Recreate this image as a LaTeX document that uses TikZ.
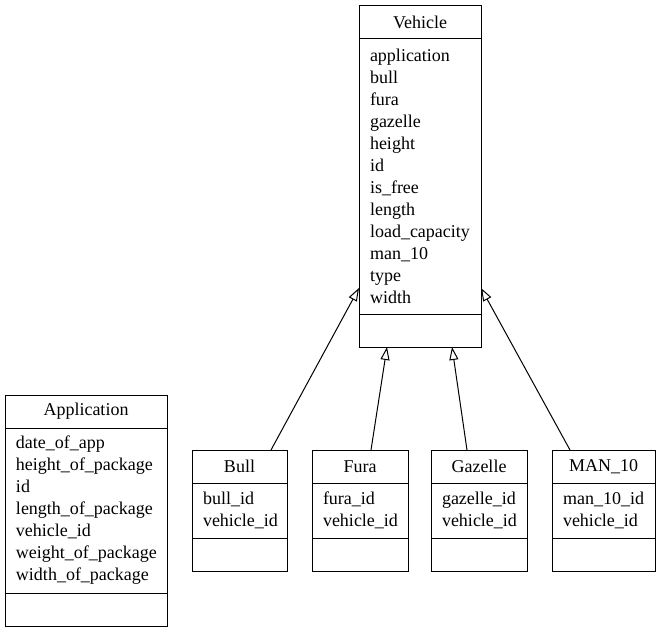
\documentclass[tikz,border=0pt]{standalone}
\usepackage{fontspec}
\setmainfont{Liberation Serif}
\newfontfamily\classfont{Liberation Serif}
\usetikzlibrary{positioning,arrows.meta}

\begin{document}
\begin{tikzpicture}[x=1pt,y=-1pt,
  classname/.style={draw, line width=1pt, outer sep=0pt, text width=#1, inner xsep=11pt, inner ysep=0pt, minimum height=33pt, align=center, font=\classfont\fontsize{18}{22}\selectfont},
  classattrs/.style={draw, line width=1pt, outer sep=0pt, text width=#1, inner xsep=11pt, inner ysep=0pt, align=left, font=\classfont\fontsize{18}{22}\selectfont},
  classempty/.style={draw, line width=1pt, outer sep=0pt, text width=#1, inner xsep=11pt, inner ysep=0pt, minimum height=33pt},
  inherit/.style={line width=1pt, -{Triangle[open, length=13pt, width=9pt]}}]
\useasboundingbox (0,0) rectangle (661,631);

% Vehicle
\node[classname=100pt, anchor=north west] (vehicle) at (359,6) {Vehicle};
\node[classattrs=100pt, minimum height=275pt, below=0pt of vehicle] (vehicleattr) {application\\ bull\\ fura\\ gazelle\\ height\\ id\\ is\_free\\ length\\ load\_capacity\\ man\_10\\ type\\ width};
\node[classempty=100pt, below=0pt of vehicleattr] (vehicleempty) {};

% Application
\node[classname=140pt, anchor=north west] (app) at (5,395) {Application};
\node[classattrs=140pt, minimum height=165pt, below=0pt of app] (appattr) {date\_of\_app\\ height\_of\_package\\ id\\ length\_of\_package\\ vehicle\_id\\ weight\_of\_package\\ width\_of\_package};
\node[classempty=140pt, below=0pt of appattr] (appempty) {};

% Bull, Fura, Gazelle, MAN_10
\node[classname=73pt, anchor=north west] (bull) at (192,450) {Bull};
\node[classattrs=73pt, minimum height=55pt, below=0pt of bull] (bullattr) {bull\_id\\ vehicle\_id};
\node[classempty=73pt, below=0pt of bullattr] (bullempty) {};

\node[classname=74pt, anchor=north west] (fura) at (312,450) {Fura};
\node[classattrs=74pt, minimum height=55pt, below=0pt of fura] (furaattr) {fura\_id\\ vehicle\_id};
\node[classempty=74pt, below=0pt of furaattr] (furaempty) {};

\node[classname=74pt, anchor=north west] (gazelle) at (431,450) {Gazelle};
\node[classattrs=74pt, minimum height=55pt, below=0pt of gazelle] (gazelleattr) {gazelle\_id\\ vehicle\_id};
\node[classempty=74pt, below=0pt of gazelleattr] (gazelleempty) {};

\node[classname=81pt, anchor=north west] (man) at (552,450) {MAN\_10};
\node[classattrs=81pt, minimum height=55pt, below=0pt of man] (manattr) {man\_10\_id\\ vehicle\_id};
\node[classempty=81pt, below=0pt of manattr] (manempty) {};

% inheritance
\draw[inherit] ([xshift=79pt]bull.north west) -- ([yshift=26pt]vehicleattr.south west);
\draw[inherit] ([xshift=59pt]fura.north west) -- ([xshift=28pt]vehicleempty.south west);
\draw[inherit] ([xshift=36pt]gazelle.north west) -- ([xshift=-29pt]vehicleempty.south east);
\draw[inherit] ([xshift=18pt]man.north west) -- ([yshift=26pt]vehicleattr.south east);
\end{tikzpicture}
\end{document}
